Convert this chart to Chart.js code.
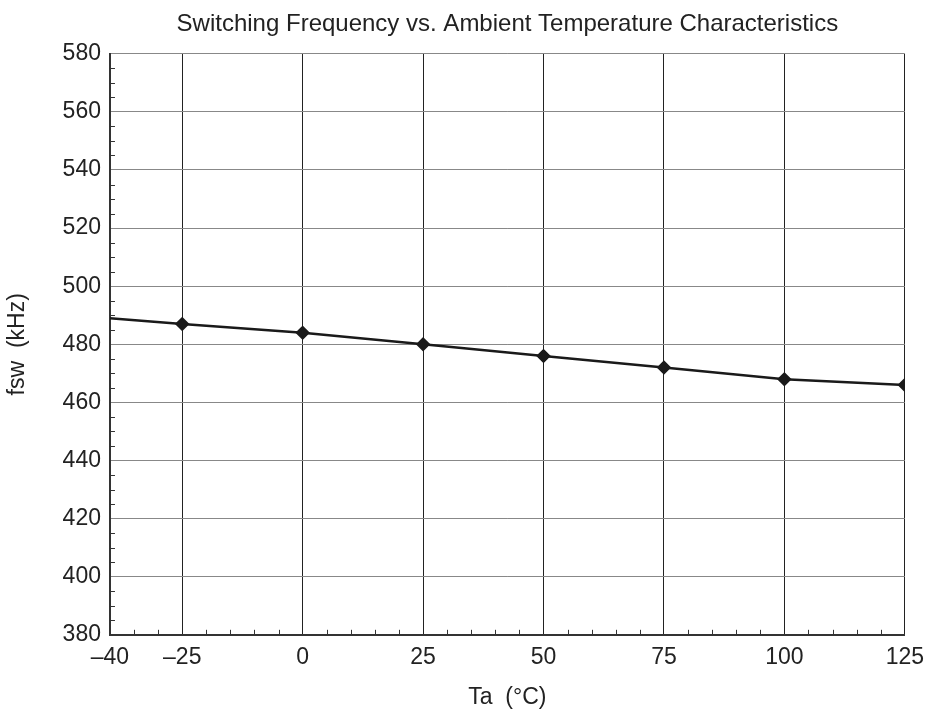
<!DOCTYPE html>
<html>
<head>
<meta charset="utf-8">
<script src="https://cdn.jsdelivr.net/npm/chart.js@4"></script>
<style>
  html, body { margin: 0; padding: 0; background: #fff; }
  #wrap { width: 933px; height: 715px; }
</style>
</head>
<body>
<div id="wrap"><canvas id="chart" width="933" height="715"></canvas></div>
<script>
// values
const temps = [-40, -25, 0, 25, 50, 75, 100, 125];
const fsw = [489, 487, 484, 480, 476, 472, 468, 466];
const markerShown = [false, true, true, true, true, true, true, true];
const xTicks = [-40, -25, 0, 25, 50, 75, 100, 125];
const yTicks = [380, 400, 420, 440, 460, 480, 500, 520, 540, 560, 580];

const FONT = "'Liberation Sans', Arial, Helvetica, sans-serif";

// small inward ticks every 5 units on both axes
const minorTicks = {
  id: 'minorTicks',
  afterDraw(c) {
    const { ctx, chartArea: a } = c;
    const xs = c.scales.x, ys = c.scales.y;
    ctx.save();
    ctx.strokeStyle = '#333';
    ctx.lineWidth = 1;
    ctx.beginPath();
    for (let v = -35; v < 125; v += 5) {
      if (xTicks.includes(v)) continue;
      const px = Math.round(xs.getPixelForValue(v)) + 0.5;
      ctx.moveTo(px, a.bottom);
      ctx.lineTo(px, a.bottom - 5);
    }
    for (let v = 385; v < 580; v += 5) {
      if (yTicks.includes(v)) continue;
      const py = Math.round(ys.getPixelForValue(v)) + 0.5;
      ctx.moveTo(a.left, py);
      ctx.lineTo(a.left + 5, py);
    }
    ctx.stroke();
    ctx.restore();
  }
};

chart = new Chart(document.getElementById('chart').getContext('2d'), {
  type: 'line',
  data: {
    datasets: [{
      data: temps.map((t, i) => ({ x: t, y: fsw[i] })),
      borderColor: '#1a1a1a',
      backgroundColor: '#1a1a1a',
      borderWidth: 2.5,
      pointStyle: 'rectRot',
      pointRadius: markerShown.map(m => m ? 5.5 : 0),
      tension: 0
    }]
  },
  options: {
    responsive: false,
    animation: false,
    layout: { padding: { left: 4, right: 23, top: 0, bottom: 4 } },
    plugins: {
      legend: { display: false },
      tooltip: { enabled: false },
      title: {
        display: true,
        fullSize: false,
        text: 'Switching Frequency vs. Ambient Temperature Characteristics',
        color: '#222',
        font: { family: FONT, size: 24, weight: 'normal' },
        padding: { top: 10, bottom: 15 }
      }
    },
    scales: {
      x: {
        type: 'linear',
        min: -40,
        max: 125,
        afterBuildTicks: s => { s.ticks = xTicks.map(v => ({ value: v })); },
        ticks: {
          color: '#222',
          font: { family: FONT, size: 23 },
          padding: 9,
          maxRotation: 0,
          callback: v => v < 0 ? '\u2013' + Math.abs(v) : String(v)
        },
        grid: { color: '#222', lineWidth: 1, drawTicks: false },
        border: { color: '#333', width: 2 },
        title: {
          display: true,
          text: 'Ta  (\u00b0C)',
          color: '#222',
          font: { family: FONT, size: 23 },
          padding: { top: 3, bottom: 0 }
        }
      },
      y: {
        min: 380,
        max: 580,
        afterBuildTicks: s => { s.ticks = yTicks.map(v => ({ value: v })); },
        ticks: {
          color: '#222',
          font: { family: FONT, size: 23 },
          padding: 9
        },
        grid: { color: '#888', lineWidth: 1, drawTicks: false },
        border: { color: '#333', width: 2 },
        title: {
          display: true,
          text: 'fsw  (kHz)',
          color: '#222',
          font: { family: FONT, size: 23 },
          padding: { top: 0, bottom: 22 }
        }
      }
    }
  },
  plugins: [minorTicks]
});
</script>
</body>
</html>
